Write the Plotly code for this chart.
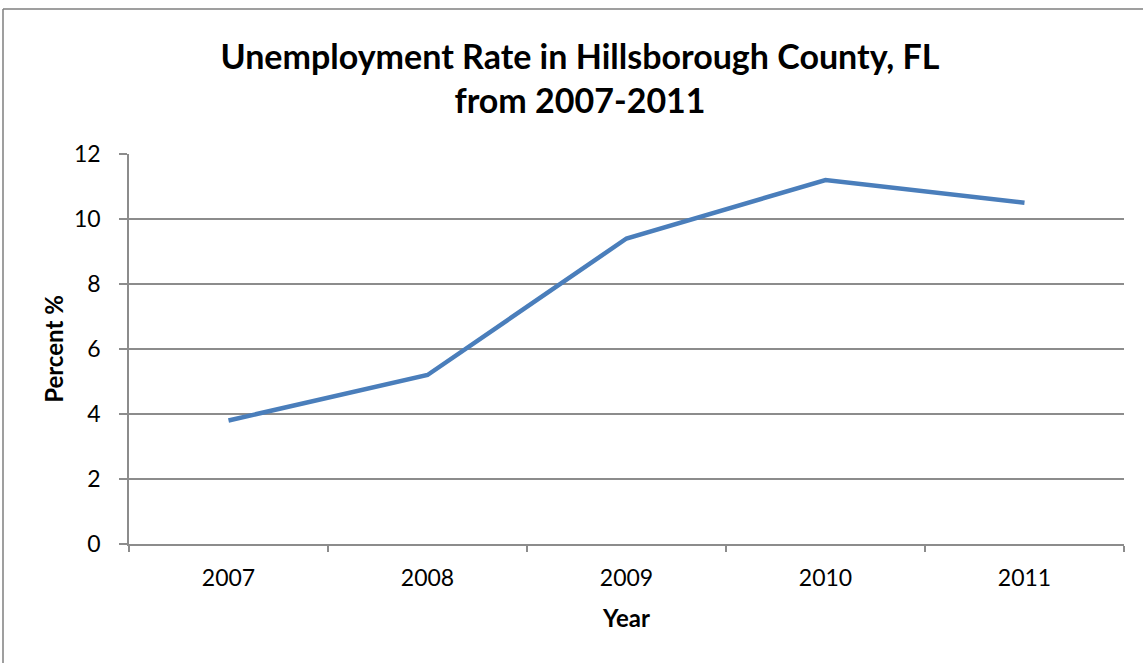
import plotly.graph_objects as go

# Hillsborough County, FL unemployment rate by year
years = ["2007", "2008", "2009", "2010", "2011"]
rate_pct = [3.8, 5.2, 9.4, 11.2, 10.5]
y_ticks = [0, 2, 4, 6, 8, 10, 12]

W, H = 1143, 663
L, R, T, B = 129, 19, 154, 119
pw, ph = W - L - R, H - T - B

def px_x(x):
    return (x - L) / pw

def px_y(y):
    return (H - B - y) / ph

GRID = "#8c8c8c"
FONT = "Lato, 'Open Sans', sans-serif"

fig = go.Figure()
fig.add_trace(go.Scatter(
    x=years, y=rate_pct, mode="lines",
    line=dict(color="#4a7ebb", width=4.5),
    hoverinfo="x+y", showlegend=False,
))

fig.update_layout(
    width=W, height=H,
    margin=dict(l=L, r=R, t=T, b=B),
    paper_bgcolor="white", plot_bgcolor="white",
    font=dict(family=FONT, color="black", size=22),
    title=dict(
        text="<b>Unemployment Rate in Hillsborough County, FL<br>from 2007-2011</b>",
        x=580 / W, xanchor="center",
        y=1 - 69 / H, yanchor="middle",
        font=dict(size=34, family=FONT, color="black"),
    ),
    xaxis=dict(
        type="category", range=[-0.5, 4.5],
        showgrid=False, showline=True, linecolor=GRID, linewidth=1.5,
        ticks="outside", tickson="boundaries", ticklen=6, tickcolor=GRID, tickwidth=1.5,
        ticklabelstandoff=13, tickfont=dict(size=23),
        title=dict(text="<b>Year</b>", font=dict(size=24), standoff=20),
        zeroline=False, fixedrange=True,
    ),
    yaxis=dict(
        range=[0, 12], tickvals=y_ticks,
        showgrid=True, gridcolor=GRID, gridwidth=1.5,
        showline=True, linecolor=GRID, linewidth=1.5,
        ticks="outside", ticklen=8, tickcolor=GRID, tickwidth=1.5,
        ticklabelstandoff=14, tickfont=dict(size=23),
        title=dict(text="<b>Percent %</b>", font=dict(size=24), standoff=4),
        zeroline=False, fixedrange=True,
    ),
    shapes=[
        dict(type="line", xref="paper", yref="paper",
             x0=px_x(3), x1=px_x(3), y0=px_y(9), y1=px_y(H + 5),
             line=dict(color="#7f7f7f", width=1.5)),
        dict(type="line", xref="paper", yref="paper",
             x0=px_x(3), x1=px_x(W + 5), y0=px_y(9), y1=px_y(9),
             line=dict(color="#7f7f7f", width=1.5)),
    ],
)

fig.write_html("out.html")
